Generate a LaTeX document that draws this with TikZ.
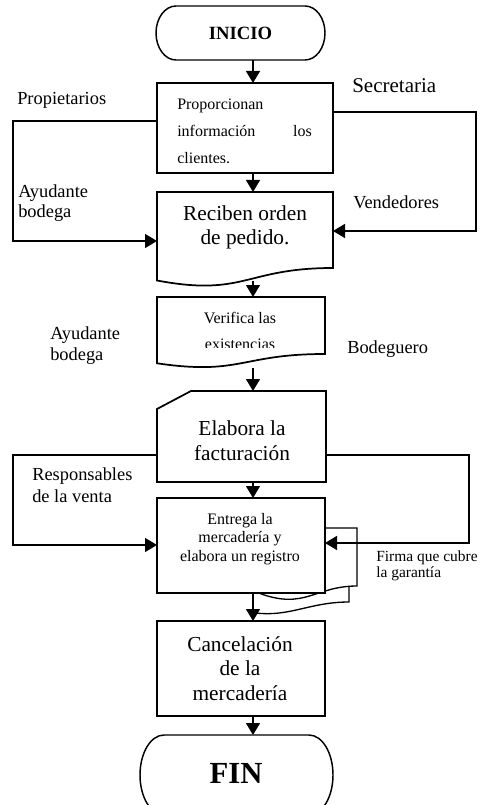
\documentclass[tikz,border=0pt]{standalone}
\usepackage{fontspec}
\setmainfont{Liberation Serif}
\usetikzlibrary{arrows.meta}
\begin{document}
\begin{tikzpicture}[x=0.75pt,y=-0.75pt,
  outline/.style={line width=1.3pt, line join=miter},
  pageline/.style={line width=1pt, line join=miter},
  frame/.style={rectangle, inner sep=0pt, outer sep=0pt},
  arr/.style={line width=1pt, line join=miter, -{Triangle[length=9pt,width=10.5pt]}},
  lbl/.style={inner sep=0pt, anchor=base west, font=\fontsize{13.8pt}{16pt}\selectfont},
  small/.style={inner sep=0pt, font=\fontsize{12pt}{14pt}\selectfont},
  big/.style={inner sep=0pt, anchor=base, font=\fontsize{16pt}{19pt}\selectfont},
]
\useasboundingbox (0,0) rectangle (480,805);
\clip (0,0) rectangle (480,805);

% ---------- frames used as anchors for the connectors ----------
\node[frame, minimum width=126.75pt, minimum height=40.5pt] (inicio) at (240.5,33) {};
\node[frame, draw, outline, minimum width=132pt, minimum height=67.5pt] (b1) at (245,128) {};
\node[frame, minimum width=132pt, minimum height=66.4pt] (b2) at (245,236.25) {};
\node[frame, minimum width=126pt, minimum height=49.7pt] (b3) at (241,330.15) {};
\node[frame, minimum width=126.75pt, minimum height=68.25pt] (b4) at (241.5,436.5) {};
\node[frame, minimum width=144.75pt, minimum height=60pt] (fin) at (236.5,775) {};
\coordinate (spine) at (253,0);

% ---------- terminals ----------
\draw[outline, line width=1.1pt] (176,6) -- (305,6) .. controls (316.05,6) and (325,18.1) .. (325,33)
  .. controls (325,47.9) and (316.05,60) .. (305,60) -- (176,60)
  .. controls (164.95,60) and (156,47.9) .. (156,33)
  .. controls (156,18.1) and (164.95,6) .. cycle;
\draw[outline, line width=1.1pt] (164,735) -- (309,735) .. controls (322.25,735) and (333,752.9) .. (333,775)
  .. controls (333,797.1) and (322.25,815) .. (309,815) -- (164,815)
  .. controls (150.75,815) and (140,797.1) .. (140,775)
  .. controls (140,752.9) and (150.75,735) .. cycle;

% ---------- document shapes ----------
\draw[outline] (157,192) -- (333,192) -- (333,268) .. controls (245,268) and (245,297) .. (157,280.5) -- cycle;
\draw[outline] (157,297) -- (325,297) -- (325,354) .. controls (241,354) and (241,375.6) .. (157,363.3) -- cycle;

% ---------- card shape ----------
\draw[outline] (191,391) -- (326,391) -- (326,482) -- (157,482) -- (157,409) -- cycle;

% ---------- stacked pages behind the delivery box ----------
\draw[pageline] (325,528) -- (357,528) -- (357,586) .. controls (315,586) and (305,610) .. (260,593.5);
\draw[pageline] (349,587) -- (349,602) .. controls (310,602) and (290,617) .. (256,613);
\node[frame, draw, outline, fill=white, minimum width=126pt, minimum height=71.25pt] (b5) at (241,545.5) {};

\node[frame, draw, outline, minimum width=126pt, minimum height=71.25pt] (b6) at (241,668.5) {};

% ---------- texts in the shapes ----------
\node[inner sep=0pt, anchor=base, font=\fontsize{14pt}{16pt}\selectfont\bfseries] (tinicio) at (240.5,40) {INICIO};
\node[inner sep=0pt, anchor=base, font=\fontsize{23pt}{26pt}\selectfont\bfseries] (tfin) at (236,783) {FIN};

\node[small, anchor=base west] (t1a) at (177,110) {Proporcionan};
\node[small, anchor=base west] (t1b) at (177,137) {información};
\node[small, anchor=base east] (t1c) at (312,137) {los};
\begin{scope}
  \clip (157,83) rectangle (333,162.3);
  \node[small, anchor=base west] (t1d) at (177,164) {clientes.};
\end{scope}

\node[big] (t2a) at (245,221) {Reciben orden};
\node[big] (t2b) at (245,245) {de pedido.};

\node[small, anchor=base] (t3a) at (240,323) {Verifica las};
\begin{scope}
  \clip (157,297) rectangle (325,347.8);
  \node[small, anchor=base] (t3b) at (240,349) {existencias};
\end{scope}

\node[big] (t4a) at (242,435) {Elabora la};
\node[big] (t4b) at (242,460) {facturación};

\node[small, anchor=base] (t5a) at (240,524.5) {Entrega la};
\node[small, anchor=base] (t5b) at (240,542.5) {mercadería y};
\node[small, anchor=base] (t5c) at (240,561) {elabora un registro};

\node[big] (t6a) at (240,651) {Cancelación};
\node[big] (t6b) at (240,675) {de la};
\node[big] (t6c) at (240,700) {mercadería};

% ---------- side labels ----------
\node[lbl] (l1) at (17,105) {Propietarios};
\node[lbl, font=\fontsize{15.75pt}{18pt}\selectfont] (l2) at (352,93) {Secretaria};
\node[lbl] (l3a) at (18,198) {Ayudante};
\node[lbl] (l3b) at (18,218) {bodega};
\node[lbl] (l4) at (353,209) {Vendedores};
\node[lbl] (l5a) at (50,339) {Ayudante};
\node[lbl] (l5b) at (50,360) {bodega};
\node[lbl] (l6) at (347,353) {Bodeguero};
\node[lbl] (l7a) at (32,480) {Responsables};
\node[lbl] (l7b) at (32,502) {de la venta};
\node[lbl, font=\fontsize{11.6pt}{14pt}\selectfont] (l8a) at (376,561) {Firma que cubre};
\node[lbl, font=\fontsize{11.6pt}{14pt}\selectfont] (l8b) at (376,577) {la garantía};

% ---------- main flow ----------
\draw[arr] (inicio.south -| spine) -- (b1.north -| spine);
\draw[arr] (b1.south -| spine) -- (b2.north -| spine);
\draw[arr] (b2.south -| spine) -- (b3.north -| spine);
\draw[arr, shorten <=3.75pt] (b3.south -| spine) -- (b4.north -| spine);
\draw[arr] (b4.south -| spine) -- (b5.north -| spine);
\draw[arr] (b5.south -| spine) -- (b6.north -| spine);
\draw[arr] (b6.south -| spine) -- (fin.north -| spine);

% ---------- side loops ----------
\coordinate (ta) at (13,121);  \coordinate (tb) at (13,241);
\coordinate (tc) at (476,112); \coordinate (td) at (476,231);
\coordinate (te) at (13,455);  \coordinate (tf) at (13,545);
\coordinate (tg) at (469,455); \coordinate (th) at (469,543);
\draw[arr] (ta -| b1.west) -- (ta) -- (tb) -- (tb -| b2.west);
\draw[arr] (tc -| b1.east) -- (tc) -- (td) -- (td -| b2.east);
\draw[arr] (te -| b4.west) -- (te) -- (tf) -- (tf -| b5.west);
\draw[arr] (tg -| b4.east) -- (tg) -- (th) -- (th -| b5.east);
\end{tikzpicture}
\end{document}
